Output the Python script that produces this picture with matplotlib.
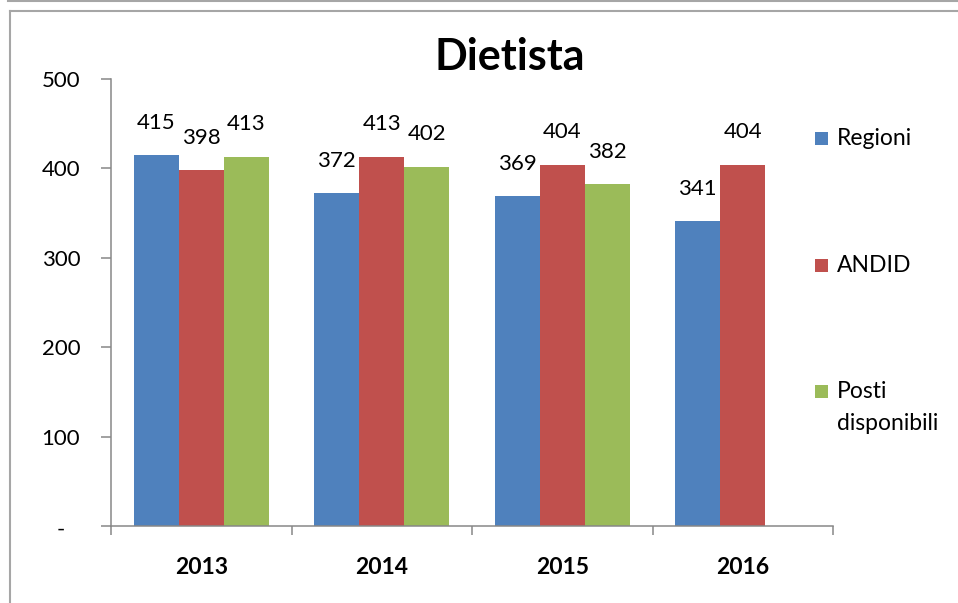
import matplotlib
matplotlib.use("Agg")
import matplotlib.pyplot as plt
import matplotlib.transforms as mtransforms
from matplotlib.lines import Line2D
from matplotlib.patches import Rectangle
import numpy as np

# dati
anni = ["2013", "2014", "2015", "2016"]
serie = ["Regioni", "ANDID", "Posti disponibili"]
regioni = [415, 372, 369, 341]
andid = [398, 413, 404, 404]
posti = [413, 402, 382, None]
y_ticks = [0, 100, 200, 300, 400, 500]
y_labels = ["-", "100", "200", "300", "400", "500"]

colori = ["#4F81BD", "#C0504D", "#9BBB59"]
grigio = "#878787"

plt.rcParams['font.family'] = ['Lato', 'DejaVu Sans']

W, H = 958, 603
fig = plt.figure(figsize=(W / 100, H / 100), dpi=100)
ax = fig.add_axes([111 / W, 1 - 526 / H, (833 - 111) / W, (526 - 79) / H])

x = np.arange(len(anni))
larg = 0.25
for i, (nome, valori) in enumerate(zip(serie, [regioni, andid, posti])):
    for j, v in enumerate(valori):
        if v is None:
            continue
        xpos = x[j] + (i - 1) * larg
        ax.bar(xpos, v, larg, color=colori[i], linewidth=0)
        ax.annotate(str(v), (xpos, v), xytext=(0, 19), textcoords='offset points',
                    ha='center', va='baseline', fontsize=16, color='black')

ax.set_xlim(-0.5, len(anni) - 0.5)
ax.set_ylim(0, 500)

ax.set_yticks(y_ticks)
ax.set_yticklabels(y_labels, fontsize=16)
ax.set_xticks(x)
ax.set_xticklabels(anni, fontsize=16.5, fontweight='bold')
ax.set_xticks(np.arange(len(anni) + 1) - 0.5, minor=True)

ax.tick_params(axis='y', direction='out', length=7.2, width=1.1, color=grigio, pad=15)
ax.tick_params(axis='x', which='major', length=0, pad=22)
ax.tick_params(axis='x', which='minor', direction='out', length=6.5, width=1.1, color=grigio)

# il trattino dello zero sta più a sinistra (formato contabilità)
zero_lab = ax.get_yticklabels()[0]
zero_lab.set_transform(zero_lab.get_transform() +
                       mtransforms.ScaledTranslation(-15 / 100, -2 / 100, fig.dpi_scale_trans))

for s in ['top', 'right']:
    ax.spines[s].set_visible(False)
for s in ['left', 'bottom']:
    ax.spines[s].set_color(grigio)
    ax.spines[s].set_linewidth(1.1)

# titolo
fig.text(510 / W, 1 - 70 / H, "Dietista", ha='center', va='baseline',
         fontsize=31, fontweight='bold')

# legenda
leg_y = [145, 272, 398]
for i, nome in enumerate(serie):
    yb = leg_y[i]
    fig.patches.append(Rectangle((815 / W, 1 - yb / H), 13 / W, 13 / H,
                                 transform=fig.transFigure, color=colori[i], linewidth=0))
    righe = nome.split(" ")
    for k, r in enumerate(righe):
        fig.text(837 / W, 1 - (yb + k * 32) / H, r, ha='left', va='baseline', fontsize=16.5)

# cornice
bordo = "#A6A6A6"
fig.add_artist(Line2D([8 / W, 1], [1 - 1 / H, 1 - 1 / H], transform=fig.transFigure, color=bordo, lw=1.5))
fig.add_artist(Line2D([9.5 / W, 1], [1 - 10.5 / H, 1 - 10.5 / H], transform=fig.transFigure, color=bordo, lw=1.5))
fig.add_artist(Line2D([9.5 / W, 9.5 / W], [1 - 10.5 / H, 0], transform=fig.transFigure, color=bordo, lw=1.5))

fig.savefig("out.png", dpi=100)
